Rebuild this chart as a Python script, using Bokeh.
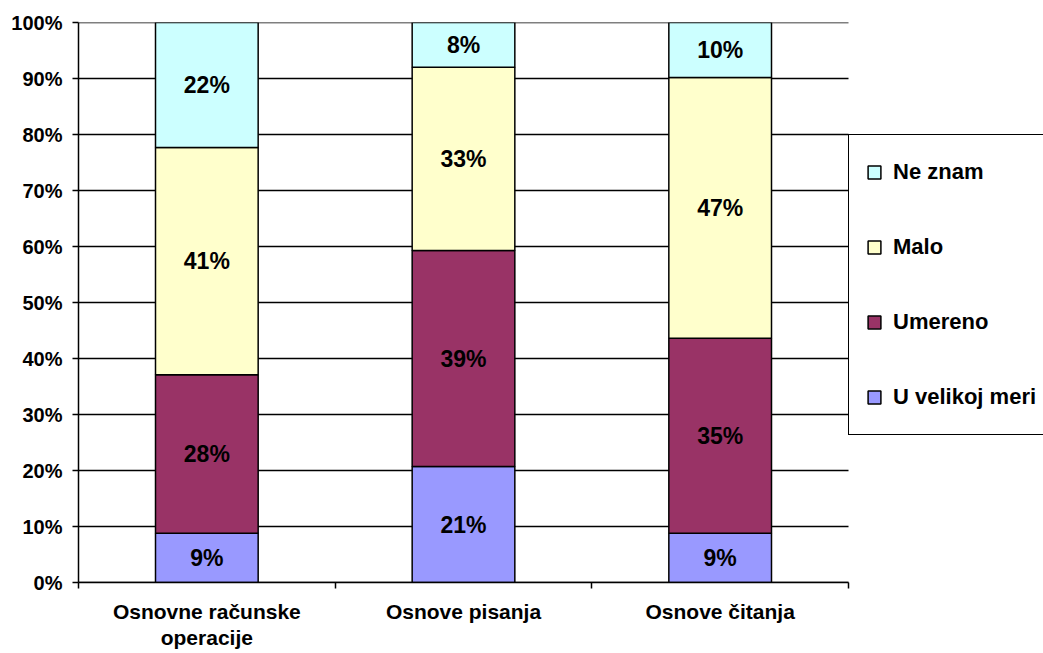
from bokeh.plotting import figure
from bokeh.models import (ColumnDataSource, Range1d, FixedTicker, Legend, LegendItem,
                          LabelSet)
from bokeh.core.properties import value
from bokeh.embed import file_html
from bokeh.resources import INLINE
import numpy as np

categories = ["Osnovne računske\noperacije", "Osnove pisanja", "Osnove čitanja"]
series = ["U velikoj meri", "Umereno", "Malo", "Ne znam"]
u_velikoj_meri = [8.8, 20.7, 8.8]
umereno = [28.3, 38.6, 34.8]
malo = [40.6, 32.7, 46.6]
ne_znam = [22.3, 8.0, 9.8]
colors = ["#9999FF", "#993366", "#FFFFCC", "#CCFFFF"]
y_ticks = [0, 10, 20, 30, 40, 50, 60, 70, 80, 90, 100]

FONT = "Liberation Sans"

W, H = 1043, 653
LEFT, TOP, BOTTOM = 78, 22, 71
PLOT_W = 770          # width of the category area in pixels
FRAME_W = W - LEFT    # frame runs to the right edge so the legend can sit beside the bars

n = len(categories)
xs = list(np.arange(n) + 0.5)
data = {"x": xs}
for name, vals in zip(series, [u_velikoj_meri, umereno, malo, ne_znam]):
    data[name] = [v / 100.0 for v in vals]
src = ColumnDataSource(data)

p = figure(width=W, height=H, output_backend="svg", toolbar_location=None,
           x_range=Range1d(0, n * FRAME_W / PLOT_W), y_range=Range1d(0, 1),
           min_border_left=LEFT, min_border_right=0, min_border_top=TOP,
           min_border_bottom=BOTTOM)
p.outline_line_color = None
p.background_fill_color = "white"
p.xgrid.grid_line_color = None
p.ygrid.grid_line_color = None

# horizontal grid lines limited to the category area
gsrc = ColumnDataSource(dict(y=[t / 100 for t in y_ticks],
                             x0=[0] * len(y_ticks), x1=[n] * len(y_ticks)))
p.segment(x0="x0", x1="x1", y0="y", y1="y", source=gsrc, line_color="black",
          line_width=1.5)

renderers = p.vbar_stack(series, x="x", width=0.4, source=src, fill_color=colors,
                         line_color="black", line_width=1.5)

# labels
lx, ly, lt = [], [], []
for i in range(n):
    base = 0.0
    for name in series:
        v = data[name][i]
        lx.append(xs[i])
        ly.append(base + v / 2)
        lt.append(f"{round(v * 100):d}%")
        base += v
lsrc = ColumnDataSource(dict(x=lx, y=ly, t=lt))
labels = LabelSet(x="x", y="y", text="t", source=lsrc, text_align="center",
                  text_baseline="middle", text_font=value(FONT), text_font_size=value("23px"),
                  text_font_style="bold", text_color="black")
p.add_layout(labels)

# y axis
p.yaxis.ticker = FixedTicker(ticks=[t / 100 for t in y_ticks])
p.yaxis.major_label_overrides = {t / 100: f"{t}%" for t in y_ticks}
p.yaxis.major_label_text_font = FONT
p.yaxis.major_label_text_font_size = "20px"
p.yaxis.major_label_text_font_style = "bold"
p.yaxis.major_label_text_color = "black"
p.yaxis.major_tick_out = 6
p.yaxis.major_tick_in = 0
p.yaxis.minor_tick_line_color = None
p.yaxis.axis_line_color = "black"
p.yaxis.axis_line_width = 1.5
p.yaxis.major_tick_line_color = "black"
p.yaxis.major_tick_line_width = 1.5
p.yaxis.major_label_standoff = 10

# x axis
p.xaxis.bounds = (0, n)
p.xaxis.ticker = FixedTicker(ticks=xs, minor_ticks=list(range(n + 1)))
p.xaxis.major_label_overrides = {x: c for x, c in zip(xs, categories)}
p.xaxis.major_label_text_font = FONT
p.xaxis.major_label_text_font_size = "21px"
p.xaxis.major_label_text_font_style = "bold"
p.xaxis.major_label_text_color = "black"
p.xaxis.major_label_text_line_height = 1.15
p.xaxis.major_tick_line_color = None
p.xaxis.major_tick_out = 0
p.xaxis.major_tick_in = 0
p.xaxis.minor_tick_out = 6
p.xaxis.minor_tick_in = 0
p.xaxis.minor_tick_line_color = "black"
p.xaxis.minor_tick_line_width = 1.5
p.xaxis.axis_line_color = "black"
p.xaxis.axis_line_width = 1.5
p.xaxis.major_label_standoff = 11

items = [LegendItem(label=s, renderers=[r]) for s, r in zip(series, renderers)]
items.reverse()
legend = Legend(items=items, location=(PLOT_W, 147), orientation="vertical",
                border_line_color="black", border_line_width=1.5, border_line_alpha=1.0,
                background_fill_color="white", background_fill_alpha=1.0,
                label_text_font=FONT, label_text_font_size="22px",
                label_text_font_style="bold", label_text_color="black",
                glyph_width=16, glyph_height=16, label_standoff=11, padding=17,
                spacing=35, label_height=40, margin=0)
p.add_layout(legend, "center")

open("out.html", "w").write(file_html(p, INLINE))
